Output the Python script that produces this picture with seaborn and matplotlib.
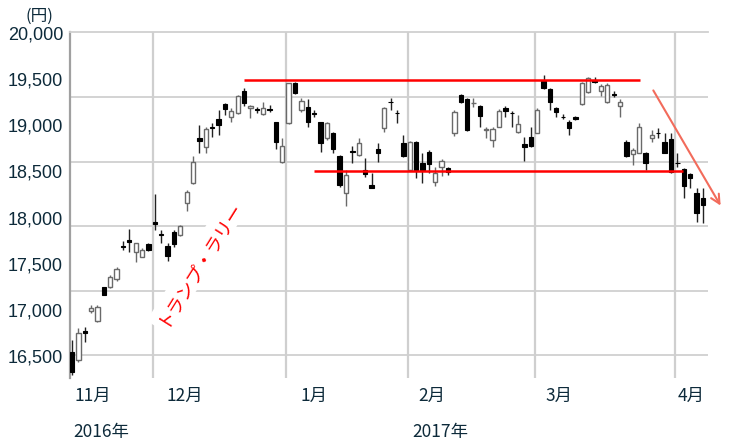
import matplotlib
matplotlib.use("Agg")
import matplotlib.pyplot as plt
import numpy as np
import seaborn as sns

# ---------------- data (daily candles, yen) ----------------
opens = [16547, 16457, 16774, 16991, 16883, 17244, 17251, 17331, 17685, 17757,
         17630, 17576, 17714, 17956, 17818, 17695, 17847, 17811, 18161, 18378,
         18866, 18768, 18985, 19068, 19231, 19093, 19129, 19375, 19184, 19173,
         19119, 19173, 19032, 18606, 19021, 19455, 19166, 19194, 19129, 19032,
         18859, 18920, 18667, 18263, 18721, 18678, 18515, 18353, 18739, 18967,
         19256, 19137, 18812, 18515, 18822, 18595, 18714, 18389, 18552, 18533,
         18913, 19328, 19281, 19238, 19209, 18949, 18840, 18985, 19191, 19137,
         18931, 18797, 18877, 18920, 19483, 19390, 19184, 19093, 19039, 19093,
         19231, 19364, 19491, 19375, 19256, 19339, 19209, 18822, 18689, 18703,
         18703, 18859, 18920, 18822, 18848, 18595, 18523, 18472, 18270, 18208]
highs = [16673, 16800, 16818, 17053, 17053, 17251, 17378, 17461, 17750, 17872,
         17721, 17667, 17728, 18255, 17865, 17721, 17865, 17919, 18299, 18667,
         19003, 18985, 19021, 19166, 19238, 19184, 19328, 19400, 19220, 19202,
         19256, 19220, 19039, 18859, 19462, 19473, 19292, 19281, 19166, 19039,
         19039, 18931, 18678, 18515, 18775, 18859, 18642, 18479, 18804, 19202,
         19292, 19166, 18895, 18833, 18833, 18696, 18732, 18552, 18631, 18552,
         19166, 19339, 19292, 19292, 19220, 18985, 18985, 19173, 19209, 19158,
         19111, 18877, 18985, 19184, 19545, 19400, 19194, 19122, 19057, 19101,
         19473, 19527, 19527, 19447, 19462, 19375, 19281, 18840, 18750, 19021,
         18714, 18949, 18967, 18913, 18913, 18696, 18533, 18479, 18317, 18317]
lows = [16294, 16439, 16655, 16962, 16872, 17157, 17233, 17316, 17649, 17630,
        17522, 17569, 17641, 17865, 17721, 17533, 17685, 17800, 18075, 18364,
        18696, 18703, 18877, 18895, 19111, 19039, 19122, 19209, 19075, 19137,
        19111, 19147, 18739, 18595, 19014, 19339, 19147, 18985, 19093, 18714,
        18840, 18696, 18335, 18125, 18588, 18667, 18443, 18317, 18606, 18931,
        19166, 19021, 18660, 18508, 18425, 18371, 18479, 18342, 18450, 18461,
        18884, 19245, 18942, 19202, 18985, 18859, 18768, 18978, 19093, 18985,
        18920, 18617, 18761, 18913, 19390, 19166, 19093, 19064, 18895, 19057,
        19220, 19353, 19462, 19317, 19245, 19303, 19086, 18653, 18570, 18696,
        18515, 18822, 18859, 18696, 18479, 18552, 18208, 18317, 17956, 17937]
closes = [16330, 16746, 16746, 17016, 17027, 17161, 17352, 17443, 17680, 17739,
          17721, 17649, 17649, 17930, 17812, 17587, 17714, 17909, 18281, 18606,
          18833, 18960, 18967, 19003, 19173, 19158, 19317, 19238, 19209, 19166,
          19184, 19166, 18822, 18775, 19455, 19346, 19267, 19039, 19122, 18804,
          19021, 18739, 18353, 18461, 18714, 18812, 18472, 18317, 18703, 19184,
          19249, 19130, 18667, 18822, 18515, 18515, 18580, 18479, 18617, 18497,
          19147, 19256, 18949, 19245, 19101, 18956, 18956, 19158, 19158, 19130,
          19014, 18768, 18775, 19166, 19400, 19256, 19147, 19086, 18967, 19064,
          19462, 19509, 19473, 19426, 19436, 19332, 19256, 18667, 18732, 18978,
          18588, 18895, 18913, 18703, 18497, 18588, 18342, 18425, 18053, 18136]

month_labels = ["11月", "12月", "1月", "2月", "3月", "4月"]
month_start_idx = [0, 13, 34, 53, 73, 95]
year_labels = ["2016年", "2017年"]
ytick_values = [16500, 17000, 17500, 18000, 18500, 19000, 19500, 20000]
grid_values = [19305, 18600, 17905, 17205, 16510]
resistance_level = 19490
support_level = 18505
annotation_text = "トランプ・ラリー"
unit_label = "(円)"

# ---------------- style ----------------
sns.set_theme(style="white")
plt.rcParams["font.family"] = ["Liberation Sans", "Noto Sans CJK JP", "DejaVu Sans"]
JP = ["Noto Sans CJK JP", "DejaVu Sans"]
TXT = "#0d2a3a"

fig = plt.figure(figsize=(7.3, 4.42), dpi=100)
W, H = 730, 442
ax = fig.add_axes([70 / W, 1 - 378 / H, 638 / W, 346 / H])

idx = np.arange(len(opens))
o = np.array(opens, float)
h = np.array(highs, float)
l = np.array(lows, float)
c = np.array(closes, float)
up = c >= o

# grid
for g in grid_values:
    ax.axhline(g, color="#d0d0d0", lw=1.3, zorder=0)
for m in month_start_idx[1:]:
    ax.axvline(m - 0.35, color="#cfcfcf", lw=1.6, zorder=0)

# wicks
ax.vlines(idx[up], l[up], h[up], color="#6a6a6a", lw=1.0, zorder=2)
ax.vlines(idx[~up], l[~up], h[~up], color="#222222", lw=1.0, zorder=2)
# bodies
bw = 0.68
bottoms = np.minimum(o, c)
heights = np.maximum(np.abs(c - o), 8)
ax.bar(idx[up], heights[up], bottom=bottoms[up], width=bw,
       facecolor="white", edgecolor="#6a6a6a", linewidth=1.0, zorder=3)
ax.bar(idx[~up], heights[~up], bottom=bottoms[~up], width=bw,
       facecolor="black", edgecolor="black", linewidth=0.8, zorder=3)

# red support/resistance lines
ax.plot([27.0, 89.2], [resistance_level, resistance_level], color="#ff0000", lw=1.8, zorder=5,
        solid_capstyle="butt")
ax.plot([38.0, 95.9], [support_level, support_level], color="#ff0000", lw=1.8, zorder=5,
        solid_capstyle="butt")

# arrow
ax.annotate("", xy=(102.0, 18104), xytext=(91.0, 19404),
            arrowprops=dict(arrowstyle="->", color="#f26b5b", lw=1.5, mutation_scale=16),
            annotation_clip=False, zorder=6)

# rotated annotation
ax.text(19.8, 17508, annotation_text, rotation=58, color="#ff0000", fontsize=13,
        family=JP, ha="center", va="center", rotation_mode="anchor", zorder=4,
        bbox=dict(facecolor="white", edgecolor="none", pad=3))

ax.set_xlim(-0.31, 99.8)
ax.set_ylim(16262, 20011)
ax.set_xticks([])
ax.set_yticks(ytick_values)
ax.set_yticklabels([f"{v:,}" for v in ytick_values])
ax.tick_params(axis="y", length=0, pad=5, labelsize=13, labelcolor=TXT)
ax.grid(False)
for s in ["right", "bottom"]:
    ax.spines[s].set_visible(False)
ax.spines["left"].set_color("#a0a0a0")
ax.spines["left"].set_linewidth(1.6)
ax.spines["top"].set_color("#d0d0d0")
ax.spines["top"].set_linewidth(1.3)

# month labels
month_label_x = [75, 167, 300, 418, 545, 678]
for lab, px in zip(month_labels, month_label_x):
    fig.text(px / W, 1 - 396 / H, lab, ha="left", va="center", fontsize=12.5,
             color=TXT, family=JP)
for lab, px in zip(year_labels, [73, 412]):
    fig.text(px / W, 1 - 432 / H, lab, ha="left", va="center", fontsize=12.5,
             color=TXT, family=JP)

fig.text(39 / W, 1 - 16 / H, unit_label, ha="center", va="center", fontsize=12,
         color=TXT, family=JP)

fig.savefig("out.png", dpi=100)
